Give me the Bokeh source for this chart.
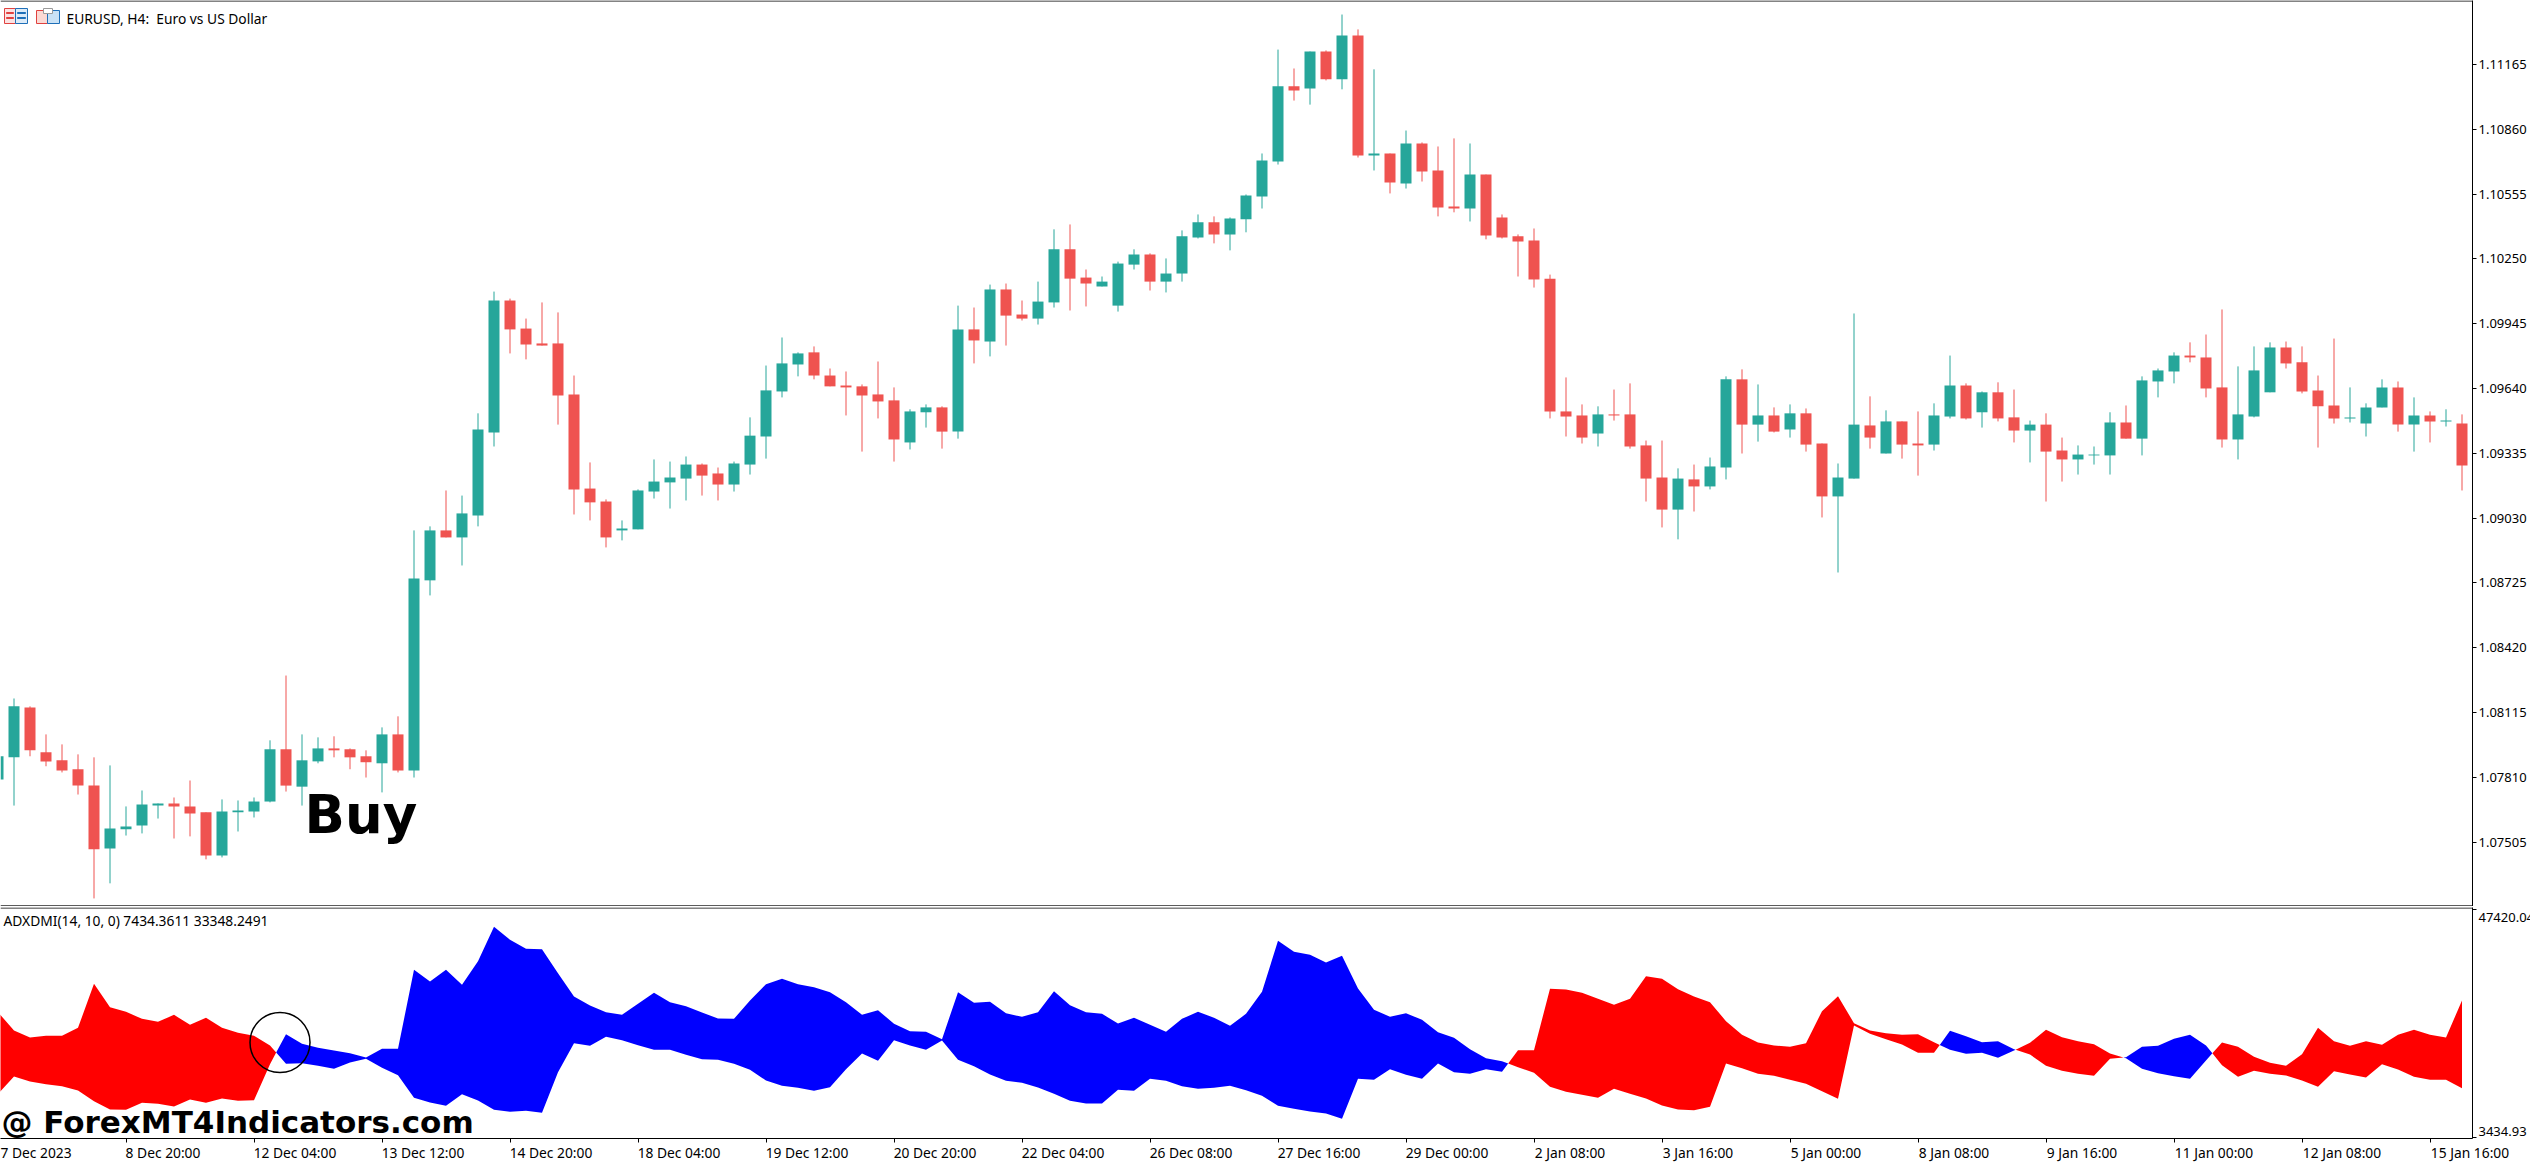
from bokeh.embed import file_html
from bokeh.resources import INLINE
from bokeh.plotting import figure
from bokeh.layouts import column
from bokeh.models import (ColumnDataSource, Range1d, FixedTicker, NumeralTickFormatter,
                          Label, Span, BoxAnnotation)

SCALE = 1e-5  # the price lists are written in points
body_top = [
    107909,108144,108139,107928,107890,107848,107771,107569,107579,107682,
    107687,107687,107673,107645,107649,107654,107696,107942,107942,107890,
    107946,107946,107942,107909,108012,108012,108746,108972,108972,109052,
    109447,110054,110054,109922,109852,109852,109612,109169,109108,108981,
    109160,109202,109221,109282,109282,109240,109287,109418,109631,109758,
    109805,109810,109701,109654,109650,109612,109584,109532,109551,109551,
    109918,109918,110106,110106,109988,110049,110295,110295,110162,110143,
    110228,110271,110271,110181,110356,110422,110422,110440,110548,110713,
    111062,111062,111226,111226,111301,111301,110746,110746,110793,110793,
    110666,110497,110647,110647,110445,110356,110337,110157,109532,109513,
    109518,109518,109518,109372,109221,109216,109212,109273,109683,109683,
    109513,109513,109523,109523,109381,109221,109470,109466,109485,109485,
    109381,109513,109654,109654,109622,109622,109504,109470,109470,109348,
    109329,109329,109480,109480,109678,109725,109795,109795,109786,109645,
    109518,109725,109833,109833,109763,109631,109560,109504,109551,109645,
    109645,109513,109513,109489,109475]
body_bottom = [
    107800,107904,107937,107885,107842,107771,107471,107475,107565,107583,
    107677,107673,107640,107442,107442,107645,107649,107696,107771,107766,
    107885,107937,107904,107881,107876,107842,107842,108737,108939,108939,
    109042,109433,109918,109847,109842,109607,109165,109104,108939,108972,
    108977,109155,109198,109216,109230,109188,109188,109282,109414,109626,
    109753,109701,109650,109645,109607,109579,109400,109386,109528,109437,
    109437,109866,109861,109983,109969,109969,110045,110157,110134,110120,
    110030,110223,110143,110143,110181,110351,110365,110365,110436,110543,
    110708,111042,111052,111095,111095,110736,110736,110610,110605,110661,
    110492,110487,110487,110360,110351,110332,110153,109532,109508,109409,
    109428,109513,109367,109216,109070,109070,109179,109179,109268,109470,
    109470,109437,109447,109376,109132,109132,109216,109409,109334,109376,
    109372,109376,109508,109499,109528,109499,109442,109442,109343,109306,
    109306,109325,109325,109404,109404,109673,109720,109786,109640,109400,
    109400,109508,109622,109758,109626,109556,109499,109499,109475,109551,
    109470,109470,109485,109485,109278]
wick_high = [
    107960,108181,108144,108012,107965,107918,107904,107866,107673,107748,
    107687,107715,107795,107645,107706,107701,107715,107984,108289,108012,
    107998,108003,107946,107937,108045,108097,108972,108991,109160,109136,
    109523,110096,110063,109969,110045,109998,109701,109292,109118,109019,
    109165,109306,109296,109320,109287,109268,109296,109504,109748,109880,
    109810,109838,109734,109720,109659,109767,109645,109542,109565,109556,
    110030,110021,110129,110134,110054,110143,110389,110412,110200,110167,
    110237,110295,110276,110252,110384,110459,110450,110445,110553,110746,
    111235,111146,111226,111231,111400,111330,111142,110746,110854,110798,
    110779,110817,110793,110647,110459,110365,110393,110176,109692,109565,
    109556,109635,109664,109395,109395,109264,109282,109315,109697,109730,
    109659,109551,109565,109546,109381,109287,109993,109603,109537,109485,
    109532,109570,109795,109664,109626,109669,109635,109489,109523,109409,
    109372,109367,109528,109560,109697,109734,109810,109857,109894,110012,
    109744,109838,109857,109861,109838,109701,109875,109645,109570,109683,
    109673,109598,109532,109542,109518]
wick_low = [
    107780,107677,107909,107862,107833,107729,107240,107311,107536,107546,
    107616,107522,107532,107424,107433,107555,107621,107692,107743,107677,
    107876,107904,107848,107809,107739,107833,107809,108666,108939,108807,
    108991,109367,109805,109777,109842,109470,109047,109019,108892,108925,
    108977,109122,109075,109113,109136,109113,109155,109235,109310,109598,
    109697,109683,109650,109513,109343,109499,109296,109353,109456,109357,
    109404,109758,109791,109842,109960,109941,110021,110007,110026,110120,
    110002,110200,110101,110092,110143,110346,110323,110290,110375,110487,
    110694,110995,110976,111090,111048,110727,110666,110558,110581,110614,
    110450,110469,110426,110342,110346,110167,110115,109499,109414,109381,
    109367,109489,109357,109108,108986,108930,109061,109165,109212,109334,
    109390,109433,109409,109343,109033,108774,109216,109357,109334,109310,
    109230,109348,109499,109494,109456,109485,109386,109292,109108,109202,
    109235,109282,109235,109404,109325,109598,109664,109763,109598,109362,
    109306,109504,109622,109734,109617,109362,109475,109480,109414,109551,
    109437,109343,109386,109461,109160]
direction = ("UUDDDDDUUU" "UDDDUUUUDU" "UDDDUDUUDU" "UUDDDDDDDU" "UUUUDDUUUU"
             "UDDDDDDUUD" "UDUDDUUDDU" "UUDUUUDUUU" "UDUDUDUDUD" "DDUDDDDDDD"
             "UDDDDUDUUD" "UDUDDUUDUD" "DUUDUDDUDD" "UUUDUUUDDD" "UUUDDDDUUU" "DUDUD")

band_upper = [
    27643,24112,22764,23085,23085,24626,33101,28607,27707,26359,
    25781,27129,25203,26552,24626,23663,23085,21223,23406,21544,
    20773,20259,19745,18911,20580,20580,35798,33550,35798,32908,
    37468,44081,41577,39843,39779,35156,30661,28928,27643,27129,
    29249,31368,29570,28800,27579,26423,26359,29891,33037,34064,
    33037,32459,31496,29570,27129,28029,25396,23984,23855,22443,
    31496,29442,29634,27450,26744,27643,31689,28992,27643,27322,
    25460,26552,25203,23855,26359,27707,26552,25011,27322,31560,
    41384,39265,38687,37211,38495,32202,28093,26744,27450,26166,
    23791,22700,20516,18782,18205,20323,20323,32138,32010,31368,
    30212,29056,30212,34579,34064,32074,30661,29570,25910,23277,
    21801,21223,20966,21672,27836,30726,25524,24112,23598,23277,
    23406,21865,24048,23021,21865,22058,20516,21737,24240,22828,
    22058,21480,19681,18975,20966,21159,22507,23277,21223,21801,
    20966,19039,17884,17306,19553,24626,22058,21159,22058,21351,
    23277,24240,23277,22764,29891]
band_lower = [
    11912,15250,14287,13774,13389,12554,10500,8895,8830,10179,
    9986,9472,10821,10179,11013,10564,10692,17627,17691,17819,
    17306,16728,17948,18654,16921,15508,11142,10243,9601,11848,
    10628,8830,8444,8637,8252,16086,21672,21159,22892,22250,
    21287,20387,20387,19424,18590,18461,17691,16535,14480,13453,
    13068,12490,13196,16664,19681,18269,22250,21223,20387,22186,
    18461,17242,15637,14416,14031,13132,11912,10564,10050,10050,
    12682,12490,14801,14416,13389,12875,13068,13453,12618,11527,
    9601,9023,8508,8123,7096,14801,14608,16664,15572,14801,
    17755,16086,15765,16664,16150,17049,15958,13260,12297,11719,
    11142,12875,11912,11013,9665,8895,8766,9408,17755,16856,
    15765,15380,14608,13838,12426,10949,25075,23470,22443,21416,
    19810,19810,20387,19617,19810,18847,20259,19489,17306,16343,
    15765,15380,18654,18782,16728,15893,15316,14801,18333,17434,
    15186,16343,15765,15444,14480,13260,16279,15637,15058,17627,
    16600,15186,14608,14608,13003]
blue_runs = [(18, 94), (122, 126), (133, 138)]

price_ticks = [1.11165, 1.10860, 1.10555, 1.10250, 1.09945, 1.09640, 1.09335,
               1.09030, 1.08725, 1.08420, 1.08115, 1.07810, 1.07505]
indicator_ticks = [47420.04, 3434.93]
indicator_labels = {45975: "47420.04", 4656: "3434.93"}
time_ticks = {8: "8 Dec 20:00", 16: "12 Dec 04:00", 24: "13 Dec 12:00",
              32: "14 Dec 20:00", 40: "18 Dec 04:00", 48: "19 Dec 12:00", 56: "20 Dec 20:00",
              64: "22 Dec 04:00", 72: "26 Dec 08:00", 80: "27 Dec 16:00", 88: "29 Dec 00:00",
              96: "2 Jan 08:00", 104: "3 Jan 16:00", 112: "5 Jan 00:00", 120: "8 Jan 08:00",
              128: "9 Jan 16:00", 136: "11 Jan 00:00", 144: "12 Jan 08:00", 152: "15 Jan 16:00"}
first_time_label = "7 Dec 2023"
circled_bar = 17.625
circled_value = 21800

TEAL, RED = "#26a69a", "#ef5350"
FONT = "Noto Sans"
W_FRAME = 2472
BAR_PX = 16
x_range = Range1d(0.15625, 154.65625)

n = len(body_top)
idx = list(range(n))
src = ColumnDataSource(dict(
    k=idx,
    top=[v * SCALE for v in body_top],
    bottom=[v * SCALE for v in body_bottom],
    high=[v * SCALE for v in wick_high],
    low=[v * SCALE for v in wick_low],
    color=[TEAL if d == "U" else RED for d in direction],
))

# ---------- price pane ----------
top = figure(output_backend="svg", toolbar_location=None, x_range=x_range,
             y_range=Range1d(1.07202, 1.11466), frame_width=W_FRAME, frame_height=906,
             min_border_left=0, min_border_right=58, min_border_top=0, min_border_bottom=0,
             x_axis_location=None, y_axis_location="right", background_fill_color="white",
             outline_line_color=None)
top.grid.visible = False
top.segment("k", "low", "k", "high", source=src, color="color", line_width=1)
top.vbar("k", 0.6875, "bottom", "top", source=src, fill_color="color", line_color=None)

def style_y(ax):
    ax.axis_line_color = "black"
    ax.major_tick_line_color = "black"
    ax.major_tick_out = 4
    ax.major_tick_in = 0
    ax.minor_tick_line_color = None
    ax.major_label_standoff = 2
    ax.major_label_text_font = FONT
    ax.major_label_text_font_size = "13px"
    ax.major_label_text_color = "black"

yax = top.yaxis[0]
yax.ticker = FixedTicker(ticks=price_ticks)
yax.formatter = NumeralTickFormatter(format="0.00000")
style_y(yax)
top.add_layout(Span(location=1.114637, dimension="width", line_color="black", line_width=1))
top.add_layout(Span(location=1.07205, dimension="width", line_color="black", line_width=1))

def text(fig, frame_bottom, s, x, y, **kw):
    opts = dict(text_font=FONT, text_font_size="13.8px", text_color="black", text_baseline="middle")
    opts.update(kw)
    fig.add_layout(Label(x=x, y=frame_bottom - y, x_units="screen", y_units="screen", text=s, **opts))

text(top, 906, "EURUSD, H4:\u00a0 Euro vs US Dollar", 66, 18)
text(top, 906, "Buy", 304, 814, text_font="DejaVu Sans", text_font_style="bold", text_font_size="53px")

# toolbar-style icons in the corner of the chart
icons = [
    (4, 8, 15, 23, "#fbe3e3", "#e0413f"), (15, 8, 27, 23, "#dcebf8", "#1e6fb8"),
    (6, 12, 13, 13, "#e0413f", "#e0413f"), (6, 17, 13, 18, "#e0413f", "#e0413f"),
    (17, 12, 25, 13, "#1e6fb8", "#1e6fb8"), (17, 17, 25, 18, "#1e6fb8", "#1e6fb8"),
    (36, 10, 47, 23, "#fbd9d4", "#e0413f"), (47, 10, 59, 23, "#c9e2f6", "#1e6fb8"),
    (43, 8, 52, 13, "#ffffff", "#9a9a9a"),
]
for x0, y0, x1, y1, f, l in icons:
    top.add_layout(BoxAnnotation(left=x0, right=x1, top=906 - y0, bottom=906 - y1,
                                 left_units="screen", right_units="screen",
                                 top_units="screen", bottom_units="screen",
                                 fill_color=f, fill_alpha=1, line_color=l, line_alpha=1, line_width=1))

# ---------- indicator pane ----------
bot = figure(output_backend="svg", toolbar_location=None, x_range=x_range,
             y_range=Range1d(3308, 47805), frame_width=W_FRAME, frame_height=231,
             min_border_left=0, min_border_right=58, min_border_top=1, min_border_bottom=26,
             y_axis_location="right", background_fill_color="white", outline_line_color=None)
bot.grid.visible = False

is_blue = [any(a <= k <= b for a, b in blue_runs) for k in idx]
plus = [band_upper[k] if is_blue[k] else band_lower[k] for k in idx]
minus = [band_lower[k] if is_blue[k] else band_upper[k] for k in idx]

run_x, run_p, run_m = [0], [plus[0]], [minus[0]]
run_blue = is_blue[0]
for k in range(1, n):
    if is_blue[k] != run_blue:
        d0, d1 = plus[k - 1] - minus[k - 1], plus[k] - minus[k]
        t = d0 / (d0 - d1)
        xc = k - 1 + t
        yc = plus[k - 1] + t * (plus[k] - plus[k - 1])
        run_x.append(xc); run_p.append(yc); run_m.append(yc)
        bot.varea(run_x, run_p, run_m, fill_color="#0000ff" if run_blue else "#ff0000")
        run_x, run_p, run_m = [xc], [yc], [yc]
        run_blue = is_blue[k]
    run_x.append(k); run_p.append(plus[k]); run_m.append(minus[k])
bot.varea(run_x, run_p, run_m, fill_color="#0000ff" if run_blue else "#ff0000")

bot.scatter([circled_bar], [circled_value], size=60, marker="circle", fill_color=None,
            line_color="black", line_width=1.5)

# labels sit just inside the pane; the tick marks themselves are at the two extreme values
yb = bot.yaxis[0]
yb.ticker = FixedTicker(ticks=list(indicator_labels), minor_ticks=indicator_ticks)
yb.major_label_overrides = indicator_labels
style_y(yb)
yb.major_tick_line_color = None
yb.minor_tick_line_color = "black"
yb.minor_tick_out = 4
yb.minor_tick_in = 0

# MetaTrader writes each time label to the right of its tick: the marks are minor ticks on
# the bars, and the (centred) labels are moved right by half their width.
def label_width(s):
    return (74 if len(s) == 11 else 82) - (2 if "Jan" in s else 0)

label_pos = {k + label_width(s) / 2 / BAR_PX: s for k, s in time_ticks.items()}
label_pos[2.25] = first_time_label

xb = bot.xaxis[0]
xb.ticker = FixedTicker(ticks=list(label_pos), minor_ticks=list(time_ticks))
xb.major_label_overrides = label_pos
xb.axis_line_color = "black"
xb.major_tick_line_color = None
xb.major_tick_out = 4
xb.major_tick_in = 0
xb.minor_tick_line_color = "black"
xb.minor_tick_out = 4
xb.minor_tick_in = 0
xb.major_label_standoff = 0
xb.major_label_orientation = "horizontal"
xb.major_label_text_font = FONT
xb.major_label_text_font_size = "13.8px"
xb.major_label_text_color = "black"

bot.add_layout(Span(location=47709, dimension="width", line_color="black", line_width=1))

text(bot, 1138, "ADXDMI(14, 10, 0) 7434.3611 33348.2491", 3, 920)
text(bot, 1138, "@ ForexMT4Indicators.com", 1, 1121, text_font="DejaVu Sans", text_font_style="bold",
     text_font_size="31px")

layout = column(top, bot, spacing=0)
open("out.html", "w").write(file_html(layout, INLINE))
